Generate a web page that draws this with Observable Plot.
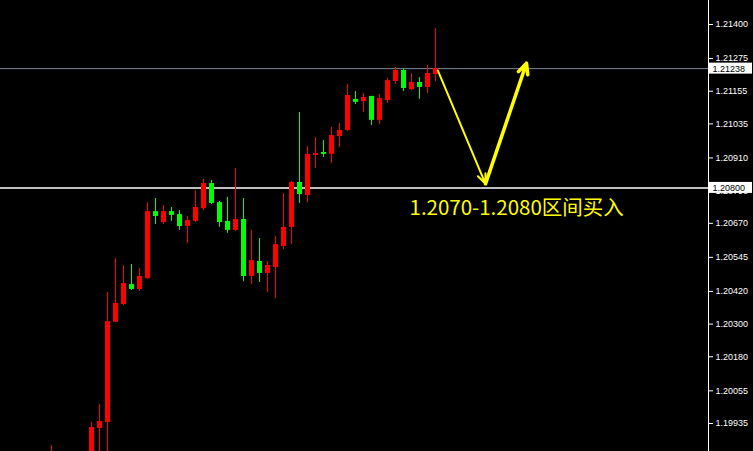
<!DOCTYPE html>
<html><head><meta charset="utf-8">
<script src="https://cdn.jsdelivr.net/npm/d3@7"></script>
<script src="https://cdn.jsdelivr.net/npm/@observablehq/plot@0.6"></script>
<style>html,body{margin:0;padding:0;background:#000;overflow:hidden}</style>
</head><body><div id="chart"></div><script>
// bar positions (index along time axis)
const barIndex = [-5, 0,1,2,3,4,5,6,7,8,9,10,11,12,13,14,15,16,17,18,19,20,21,22,23,24,25,26,27,28,29,30,31,32,33,34,35,36,37,38,39,40,41,42,43];
const opens  = [1.19762,1.19744,1.19917,1.19939,1.20307,1.20372,1.20445,1.20427,1.20467,1.20713,1.20673,1.20713,1.20702,1.20658,1.20677,1.20724,1.20816,1.20746,1.20677,1.20644,1.20684,1.20475,1.20530,1.20486,1.20508,1.20585,1.20655,1.20820,1.20772,1.20919,1.20930,1.20923,1.20989,1.21011,1.21125,1.21117,1.21136,1.21048,1.21121,1.21191,1.21231,1.21161,1.21187,1.21169,1.21216];
const highs  = [1.19854,1.19939,1.20005,1.20416,1.20541,1.20515,1.20519,1.20504,1.20746,1.20761,1.20735,1.20728,1.20717,1.20695,1.20790,1.20831,1.20827,1.20750,1.20765,1.20871,1.20761,1.20644,1.20614,1.20530,1.20622,1.20779,1.20824,1.21077,1.20952,1.20985,1.20974,1.21022,1.21036,1.21180,1.21154,1.21147,1.21136,1.21143,1.21202,1.21242,1.21238,1.21220,1.21205,1.21249,1.21385];
const lows   = [1.19744,1.19726,1.19799,1.19806,1.20306,1.20368,1.20423,1.20420,1.20464,1.20666,1.20666,1.20677,1.20644,1.20596,1.20673,1.20717,1.20739,1.20655,1.20633,1.20640,1.20456,1.20445,1.20453,1.20416,1.20394,1.20574,1.20592,1.20743,1.20746,1.20871,1.20912,1.20890,1.20948,1.21007,1.21106,1.21077,1.21029,1.21033,1.21110,1.21180,1.21154,1.21158,1.21125,1.21147,1.21191];
const closes = [1.19799,1.19920,1.19942,1.20309,1.20376,1.20449,1.20427,1.20475,1.20713,1.20695,1.20713,1.20699,1.20658,1.20680,1.20728,1.20816,1.20743,1.20673,1.20644,1.20684,1.20475,1.20533,1.20486,1.20515,1.20592,1.20655,1.20820,1.20776,1.20923,1.20926,1.20923,1.20992,1.21011,1.21139,1.21114,1.21132,1.21048,1.21128,1.21194,1.21231,1.21165,1.21187,1.21169,1.21220,1.21238];

const tickValues = [1.21400,1.21275,1.21155,1.21035,1.20910,1.20790,1.20670,1.20545,1.20420,1.20300,1.20180,1.20055,1.19935];
const tagPrices = [1.21238, 1.20800];
const tagColors = ["#778899", "#ffffff"];

// forecast arrows (bar index, price)
const arrowX1 = [43.3, 49.25];
const arrowY1 = [1.21231, 1.20815];
const arrowX2 = [49.25, 54.375];
const arrowY2 = [1.20815, 1.21258];

const noteText = "1.2070-1.2080区间买入";
const noteX = 39.75;
const noteY = 1.20700;

const xDomain = [-11.375, 77.125];
const yDomain = [1.198322, 1.214881];

const candles = barIndex.map((k, i) => ({k, open: opens[i], high: highs[i], low: lows[i], close: closes[i]}));
const colorOf = d => d.close >= d.open ? "#ff0000" : "#00ff00";
const arrows = arrowX1.map((x, i) => ({x1: x, y1: arrowY1[i], x2: arrowX2[i], y2: arrowY2[i]}));

const chart = Plot.plot({
  width: 753, height: 451,
  marginLeft: 0, marginRight: 45, marginTop: 0, marginBottom: 0,
  style: {background: "#000", color: "#fff", fontFamily: "Liberation Sans, Arial, sans-serif"},
  x: {domain: xDomain, axis: null},
  y: {domain: yDomain, axis: null},
  color: {type: "identity"},
  marks: [
    Plot.ruleY([tagPrices[0]], {stroke: tagColors[0], strokeWidth: 1}),
    Plot.ruleY([tagPrices[1]], {stroke: tagColors[1], strokeWidth: 1.5}),
    Plot.ruleX(candles, {x: "k", y1: "low", y2: "high", stroke: colorOf, strokeWidth: 1, clip: true}),
    Plot.ruleX(candles, {x: "k", y1: "open", y2: "close", stroke: colorOf, strokeWidth: 5, clip: true}),
    Plot.arrow([arrows[0]], {x1: "x1", y1: "y1", x2: "x2", y2: "y2", stroke: "#ffff00", strokeWidth: 2, headLength: 8, headAngle: 45}),
    Plot.arrow([arrows[1]], {x1: "x1", y1: "y1", x2: "x2", y2: "y2", stroke: "#ffff00", strokeWidth: 3.5, headLength: 5, headAngle: 50}),
    Plot.text([noteText], {x: noteX, y: noteY, text: d => d, fill: "#ffff00", fontSize: 20.5, fontFamily: "Noto Sans CJK SC", textAnchor: "start", lineAnchor: "bottom"}),
    Plot.axisY(tickValues, {anchor: "right", tickSize: 4, tickPadding: 3, tickFormat: d => d.toFixed(5), fontSize: 9, fontFamily: "Liberation Sans, Arial, sans-serif"}),
    Plot.ruleX([xDomain[1]], {stroke: "#fff", strokeWidth: 1}),
    Plot.text(tagPrices, {y: d => d, frameAnchor: "right", dx: 4, textAnchor: "start", text: d => d.toFixed(5), fill: "#000", fontSize: 9, fontFamily: "Liberation Sans, Arial, sans-serif"})
  ]
});
document.getElementById("chart").appendChild(chart);

// white boxes behind the price tags (the last mark group), positioned from the plot's scales
const tagGroup = chart.lastElementChild;
const ys = chart.scale("y");
const xr = chart.scale("x").range;
tagPrices.forEach(p => {
  const r = document.createElementNS("http://www.w3.org/2000/svg", "rect");
  r.setAttribute("x", xr[1] + 1);
  r.setAttribute("y", ys.apply(p) - 5.5);
  r.setAttribute("width", 43);
  r.setAttribute("height", 11);
  r.setAttribute("fill", "#fff");
  chart.insertBefore(r, tagGroup);
});
</script></body></html>
